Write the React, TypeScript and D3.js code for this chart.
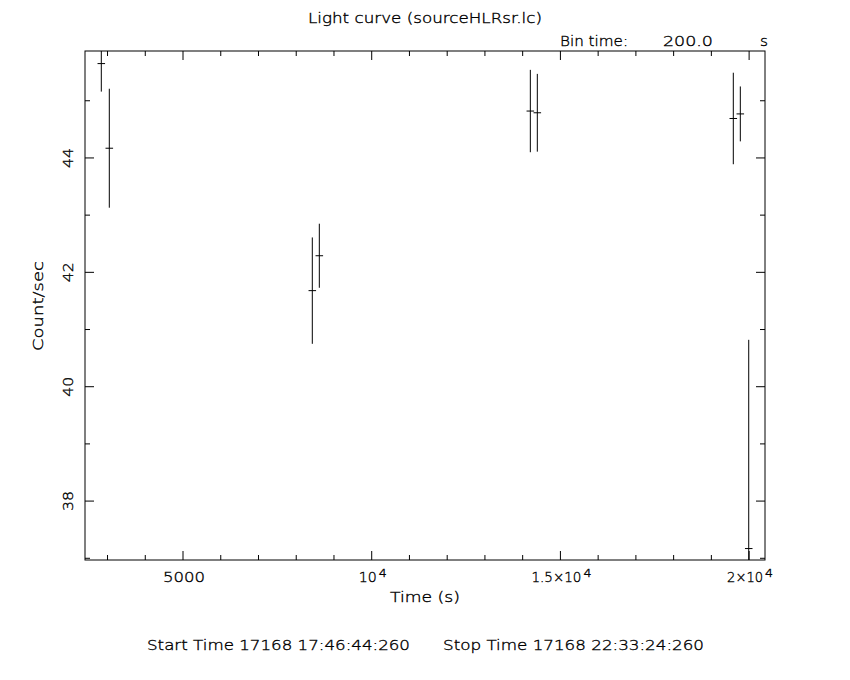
import React from "react";
import * as d3 from "d3";

const times = [2835, 3047, 8426, 8612, 14203, 14388, 19581, 19767, 19990];
const rates = [45.65, 44.17, 41.68, 42.29, 44.82, 44.79, 44.69, 44.77, 37.17];
const errors = [0.49, 1.04, 0.93, 0.56, 0.72, 0.68, 0.8, 0.48, 3.65];
const xMajorTicks = [5000, 10000, 15000, 20000];
const xMajorBase = ["5000", "10", "1.5×10", "2×10"];
const xMajorSup = ["", "4", "4", "4"];
const xMinorTicks = [3000, 4000, 6000, 7000, 8000, 9000, 11000, 12000, 13000, 14000, 16000, 17000, 18000, 19000];
const yMajorTicks = [38, 40, 42, 44];
const yMinorTicks = [37, 39, 41, 43, 45];
const binHalf = 100;

const W = 850, H = 680;
const L = 85, R = 765, T = 51, B = 560;
const FONT = "DejaVu Sans";
const FS = 14;
const CW = 10.5; // approximate char advance of reference lettering

function Txt(props: { x: number; y: number; s: string; len: number; anchor?: string; fs?: number; transform?: string }) {
  const { x, y, s, len, anchor, fs, transform } = props;
  return (
    <text x={x} y={y} transform={transform} textAnchor={anchor || "start"} fontSize={fs || FS}
      fill="#000" stroke="#000" strokeWidth={0.35}
      textLength={len} lengthAdjust="spacingAndGlyphs">{s}</text>
  );
}

export default function App() {
  const x = d3.scaleLinear().domain([2403, 20421]).range([L, R]);
  const y = d3.scaleLinear().domain([36.97, 45.87]).range([B, T]);
  const stroke = "#000";
  return (
    <svg width={W} height={H} style={{ position: "absolute", left: 0, top: 0, background: "#fff" }} fontFamily={FONT} fontWeight={200}>
      <rect x={0} y={0} width={W} height={H} fill="#fff" />
      <defs>
        <clipPath id="plotclip"><rect x={L} y={T} width={R - L} height={B - T} /></clipPath>
      </defs>
      <Txt x={308} y={23} s="Light curve (sourceHLRsr.lc)" len={234} />
      <Txt x={560} y={46} s="Bin time:" len={68} />
      <Txt x={663} y={46} s="200.0" len={50} />
      <Txt x={760} y={46} s="s" len={8} />
      <rect x={L} y={T} width={R - L} height={B - T} fill="none" stroke={stroke} strokeWidth={1} />
      {xMajorTicks.map((t, i) => {
        const baseLen = xMajorBase[i].length * 9 + (xMajorBase[i].includes(".") ? -4 : 0) + (xMajorBase[i].length === 4 && !xMajorSup[i] ? 6 : 0);
        const supLen = xMajorSup[i] ? 8 : 0;
        const total = baseLen + (supLen ? supLen + 2 : 0);
        const x0 = x(t) - total / 2 + 1;
        return (
          <g key={"xM" + t}>
            <line x1={x(t)} x2={x(t)} y1={B} y2={B - 9} stroke={stroke} />
            <line x1={x(t)} x2={x(t)} y1={T} y2={T + 9} stroke={stroke} />
            <Txt x={x0} y={582} s={xMajorBase[i]} len={baseLen} />
            {xMajorSup[i] && <Txt x={x0 + baseLen + 2} y={577} s={xMajorSup[i]} len={supLen} fs={11} />}
          </g>
        );
      })}
      {xMinorTicks.map((t) => (
        <g key={"xm" + t}>
          <line x1={x(t)} x2={x(t)} y1={B} y2={B - 5} stroke={stroke} />
          <line x1={x(t)} x2={x(t)} y1={T} y2={T + 5} stroke={stroke} />
        </g>
      ))}
      {yMajorTicks.map((t) => (
        <g key={"yM" + t}>
          <line x1={L} x2={L + 9} y1={y(t)} y2={y(t)} stroke={stroke} />
          <line x1={R} x2={R - 9} y1={y(t)} y2={y(t)} stroke={stroke} />
          <Txt x={0} y={0} transform={`translate(${73},${y(t)}) rotate(-90)`} anchor="middle" s={String(t)} len={2 * CW - 1} />
        </g>
      ))}
      {yMinorTicks.map((t) => (
        <g key={"ym" + t}>
          <line x1={L} x2={L + 5} y1={y(t)} y2={y(t)} stroke={stroke} />
          <line x1={R} x2={R - 5} y1={y(t)} y2={y(t)} stroke={stroke} />
        </g>
      ))}
      <Txt x={390} y={602} s="Time (s)" len={70} />
      <Txt x={0} y={0} transform={`translate(${43},${306}) rotate(-90)`} anchor="middle" s="Count/sec" len={90} />
      <g clipPath="url(#plotclip)">
        {times.map((t, i) => (
          <g key={"p" + i}>
            <line x1={x(t)} x2={x(t)} y1={y(rates[i] - errors[i])} y2={y(rates[i] + errors[i])} stroke={stroke} />
            <line x1={x(t - binHalf)} x2={x(t + binHalf)} y1={y(rates[i])} y2={y(rates[i])} stroke={stroke} />
          </g>
        ))}
      </g>
      <Txt x={147} y={650} s="Start Time 17168 17:46:44:260" len={263} />
      <Txt x={443} y={650} s="Stop Time 17168 22:33:24:260" len={261} />
    </svg>
  );
}
